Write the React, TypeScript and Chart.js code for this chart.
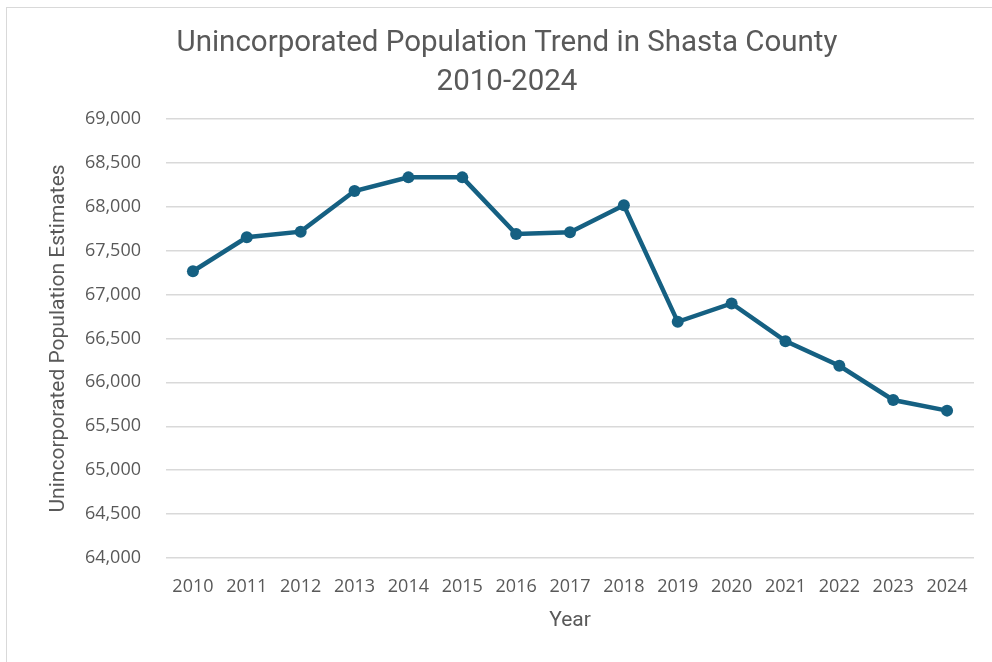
import React, { useEffect, useRef } from "react";
import { Chart, registerables } from "chart.js";

Chart.register(...registerables);

const years = ["2010","2011","2012","2013","2014","2015","2016","2017","2018","2019","2020","2021","2022","2023","2024"];
const population = [67265, 67652, 67716, 68178, 68334, 68334, 67690, 67708, 68016, 66689, 66898, 66469, 66189, 65799, 65678];
const titleLines = ["Unincorporated Population Trend in Shasta County", "2010-2024"];
const yAxisTitle = "Unincorporated Population Estimates";
const xAxisTitle = "Year";

const FONT = "'Open Sans', sans-serif";
const TFONT = "Roboto, sans-serif";
const TEXT = "#595959";

export default function App() {
  const ref = useRef<HTMLCanvasElement | null>(null);
  useEffect(() => {
    if (!ref.current) return;
    const chart = new Chart(ref.current, {
      type: "line",
      data: {
        labels: years,
        datasets: [
          {
            data: population,
            borderColor: "#156082",
            backgroundColor: "#156082",
            borderWidth: 4.5,
            pointRadius: 6,
            pointBorderWidth: 0,
            pointBackgroundColor: "#156082",
            tension: 0,
          },
        ],
      },
      options: {
        animation: false,
        responsive: false,
        maintainAspectRatio: false,
        layout: { padding: { left: 40, right: 18, top: 0, bottom: 20 } },
        plugins: {
          legend: { display: false },
          tooltip: { enabled: false },
          title: {
            display: true,
            text: titleLines,
            color: TEXT,
            font: { family: TFONT, size: 29.5, weight: "normal", lineHeight: 1.32 },
            padding: { top: 24, bottom: 17 },
          },
        },
        scales: {
          x: {
            offset: true,
            grid: { display: false, drawTicks: false },
            border: { display: false },
            ticks: { color: TEXT, font: { family: FONT, size: 18 }, padding: 18, maxRotation: 0 },
            title: { display: true, text: xAxisTitle, color: TEXT, font: { family: TFONT, size: 21 }, padding: { top: 0, bottom: 9 } },
            afterFit: (s: any) => { s.height = 84; },
          },
          y: {
            min: 64000,
            max: 69000,
            grid: { color: "#d9d9d9", lineWidth: 1.5, drawTicks: false },
            border: { display: false },
            ticks: {
              stepSize: 500,
              color: TEXT,
              font: { family: FONT, size: 18 },
              padding: 25,
              callback: (v: any) => Number(v).toLocaleString("en-US"),
            },
            title: { display: true, text: yAxisTitle, color: TEXT, font: { family: TFONT, size: 21 }, padding: { top: 6, bottom: 0 } },
            afterFit: (s: any) => { s.width = 126; },
          },
        },
      },
    });
    return () => chart.destroy();
  }, []);

  return (
    <div style={{ position: "fixed", left: 0, top: 0, width: 992, height: 662, background: "#fff", overflow: "hidden" }}>
      <div style={{ position: "absolute", left: 6, top: 7, width: 1100, height: 800, border: "1px solid #d9d9d9" }} />
      <canvas ref={ref} width={992} height={662} style={{ position: "absolute", left: 0, top: 0 }} />
    </div>
  );
}
